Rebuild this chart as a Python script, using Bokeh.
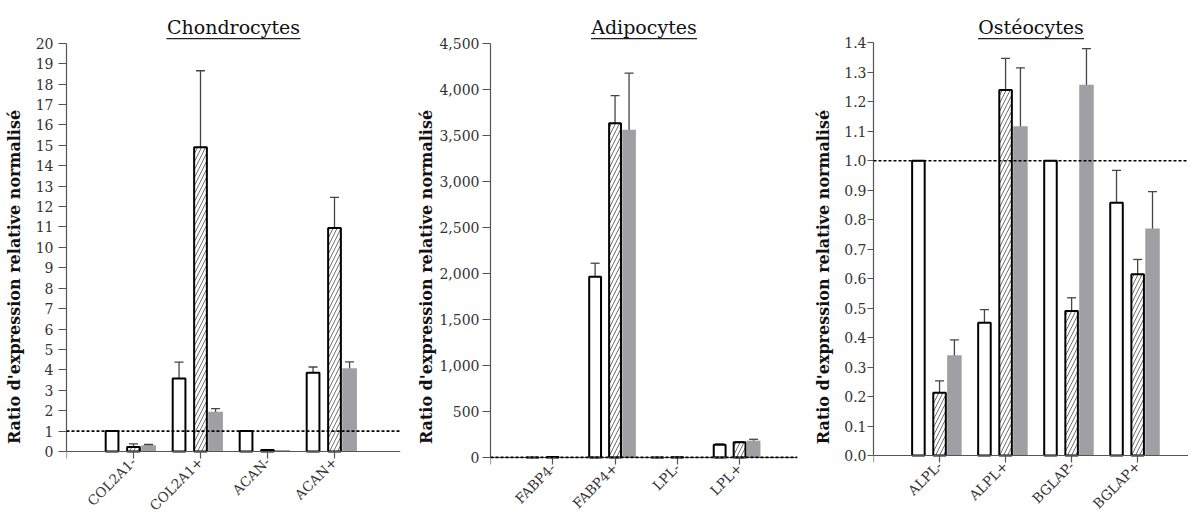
import math
from bokeh.plotting import figure
from bokeh.models import (ColumnDataSource, Range1d, FixedTicker, NumeralTickFormatter,
                          Span, Whisker, TeeHead)
from bokeh.layouts import row
from bokeh.transform import dodge
from bokeh.embed import file_html
from bokeh.resources import INLINE

# ---------------- data ----------------
y_title = "Ratio d'expression relative normalisé"

chondro_genes = ["COL2A1-", "COL2A1+", "ACAN-", "ACAN+"]
chondro_white = [1.0, 3.58, 1.0, 3.86]
chondro_white_err = [0.0, 0.80, 0.0, 0.28]
chondro_hatch = [0.22, 14.9, 0.07, 10.95]
chondro_hatch_err = [0.15, 3.75, 0.0, 1.5]
chondro_gray = [0.31, 1.95, 0.07, 4.08]
chondro_gray_err = [0.04, 0.15, 0.0, 0.31]

adipo_genes = ["FABP4-", "FABP4+", "LPL-", "LPL+"]
adipo_white = [1.0, 1962.0, 1.0, 138.0]
adipo_white_err = [0.0, 148.0, 0.0, 10.0]
adipo_hatch = [5.0, 3630.0, 3.0, 165.0]
adipo_hatch_err = [0.0, 300.0, 0.0, 6.0]
adipo_gray = [5.0, 3560.0, 3.0, 183.0]
adipo_gray_err = [0.0, 615.0, 0.0, 15.0]

osteo_genes = ["ALPL-", "ALPL+", "BGLAP-", "BGLAP+"]
osteo_white = [1.0, 0.45, 1.0, 0.857]
osteo_white_err = [0.0, 0.045, 0.0, 0.11]
osteo_hatch = [0.213, 1.24, 0.49, 0.615]
osteo_hatch_err = [0.04, 0.107, 0.045, 0.05]
osteo_gray = [0.34, 1.117, 1.258, 0.77]
osteo_gray_err = [0.052, 0.198, 0.122, 0.125]

reference_level = 1.0

# ---------------- style / layout ----------------
FONT = "DejaVu Serif"
OFF_WHITE, OFF_HATCH, OFF_GRAY = -0.32, 0.0, 0.225
W_OUT, W_GRAY = 0.19, 0.22
GRAY = "#a09fa4"
ERR = "#454545"
H = 516
BORDER_TOP = 37


def panel(title, genes, white, white_err, hatch, hatch_err, gray, gray_err,
          ymax, ystep, fmt, xmax, width, bl, br, y_top_px, y_zero_px, ul_half_px,
          ytick_out, ylab_standoff, ytitle_standoff):
    pos = list(range(1, len(genes) + 1))
    frame_top = BORDER_TOP
    frame_bottom = H
    ppu = (y_zero_px - y_top_px) / ymax
    y_end = ymax + (y_top_px - frame_top) / ppu
    y_start = -(frame_bottom - y_zero_px) / ppu

    p = figure(width=width, height=H, output_backend="svg", toolbar_location=None,
               x_range=Range1d(0, xmax), y_range=Range1d(y_start, y_end),
               min_border_left=bl, min_border_right=br, min_border_top=BORDER_TOP,
               min_border_bottom=0)
    p.outline_line_color = None
    p.grid.visible = False
    p.background_fill_color = "white"

    p.title.text = title
    p.title.align = "center"
    p.title.text_font = FONT
    p.title.text_font_size = "19px"
    p.title.text_font_style = "normal"
    p.title.text_color = "#111111"
    p.title.standoff = 0

    src = ColumnDataSource(dict(x=pos, white=white, hatch=hatch, gray=gray))
    p.vbar(x=dodge("x", OFF_WHITE), top="white", width=W_OUT, source=src,
           fill_color="white", line_color="black", line_width=2)
    p.vbar(x=dodge("x", OFF_HATCH), top="hatch", width=W_OUT, source=src,
           fill_color="white", line_color="black", line_width=2,
           hatch_pattern="/", hatch_color="#4a4a4a", hatch_scale=8, hatch_weight=0.8)
    p.vbar(x=dodge("x", OFF_GRAY), top="gray", width=W_GRAY, source=src,
           fill_color=GRAY, line_color=None)

    p.add_layout(Span(location=reference_level, dimension="width", line_color="black",
                      line_width=1.6, line_dash="3 2"))

    for vals, errs, off in ((white, white_err, OFF_WHITE), (hatch, hatch_err, OFF_HATCH),
                            (gray, gray_err, OFF_GRAY)):
        idx = [i for i, e in enumerate(errs) if e > 0]
        ws = ColumnDataSource(dict(x=[pos[i] for i in idx],
                                   lo=[vals[i] - errs[i] for i in idx],
                                   hi=[vals[i] + errs[i] for i in idx]))
        p.add_layout(Whisker(base=dodge("x", off), lower="lo", upper="hi", source=ws,
                             line_color=ERR, line_width=1.3,
                             upper_head=TeeHead(size=9, line_color=ERR, line_width=1.3),
                             lower_head=TeeHead(size=9, line_color=ERR, line_width=1.3)))

    # underline of the title (just under the title, at the top edge of the frame)
    frame_w = width - bl - br
    xppu = frame_w / xmax
    ul_y = y_end - 1.2 / ppu
    p.segment(x0=[xmax / 2 - ul_half_px / xppu], x1=[xmax / 2 + ul_half_px / xppu],
              y0=[ul_y], y1=[ul_y], line_color="#222222", line_width=1.3)

    nt = int(round(ymax / ystep))
    p.yaxis.ticker = FixedTicker(ticks=[round(i * ystep, 6) for i in range(nt + 1)])
    p.yaxis.formatter = NumeralTickFormatter(format=fmt)
    p.yaxis.bounds = (0, ymax)
    p.yaxis.axis_label = y_title
    p.yaxis.axis_label_text_font = FONT
    p.yaxis.axis_label_text_font_style = "bold"
    p.yaxis.axis_label_text_font_size = "16px"
    p.yaxis.axis_label_text_color = "#111111"
    p.yaxis.axis_label_standoff = ytitle_standoff
    p.yaxis.major_label_standoff = ylab_standoff
    p.yaxis.major_tick_out = ytick_out
    p.yaxis.major_label_text_font_size = "14px"

    p.xaxis.fixed_location = 0
    p.xaxis.ticker = FixedTicker(ticks=[0] + pos)
    overrides = {0: ""}
    for x, g in zip(pos, genes):
        overrides[x] = g
    p.xaxis.major_label_overrides = overrides
    p.xaxis.major_label_orientation = math.pi / 4
    p.xaxis.major_label_standoff = 1
    p.xaxis.major_tick_out = 7
    p.xaxis.major_label_text_font_size = "13.5px"

    for ax in (p.xaxis, p.yaxis):
        ax.axis_line_color = "#555555"
        ax.axis_line_width = 1.2
        ax.major_tick_line_color = "#555555"
        ax.major_tick_line_width = 1.2
        ax.major_tick_in = 0
        ax.minor_tick_line_color = None
        ax.major_label_text_font = FONT
        ax.major_label_text_color = "#333333"
    return p


p1 = panel("Chondrocytes", chondro_genes, chondro_white, chondro_white_err,
           chondro_hatch, chondro_hatch_err, chondro_gray, chondro_gray_err,
           20, 1, "0", 4.985, 410, 66, 10, 42.7, 451.0, 67, 8, 5, 9)
p2 = panel("Adipocytes", adipo_genes, adipo_white, adipo_white_err,
           adipo_hatch, adipo_hatch_err, adipo_gray, adipo_gray_err,
           4500, 500, "0,0", 4.93, 390, 80, 3, 42.7, 457.0, 53, 8, 3, 0)
p3 = panel("Ostéocytes", osteo_genes, osteo_white, osteo_white_err,
           osteo_hatch, osteo_hatch_err, osteo_gray, osteo_gray_err,
           1.4, 0.1, "0.0", 4.77, 388, 73, 0, 42.3, 455.0, 53, 6, 1, 8)

layout = row(p1, p2, p3)
open("out.html", "w").write(file_html(layout, INLINE, "Expression"))
